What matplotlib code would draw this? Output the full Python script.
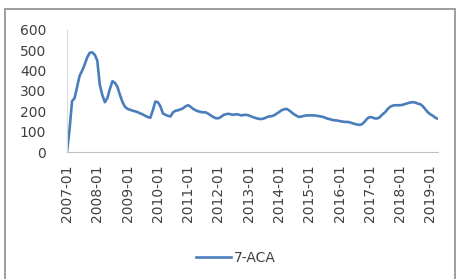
import matplotlib
matplotlib.use("Agg")
import matplotlib.pyplot as plt
from matplotlib.patches import Rectangle

# monthly 7-ACA price, 2007-01 .. 2019-04
values = [
    0, 110, 250, 265, 320, 375, 400, 430, 465, 488, 490, 478,          # 2007
    450, 330, 280, 245, 265, 310, 348, 340, 320, 280, 245, 222,        # 2008
    212, 208, 203, 200, 196, 190, 185, 178, 172, 168, 205, 248,        # 2009
    245, 225, 190, 183, 178, 175, 195, 203, 205, 210, 215, 225,        # 2010
    230, 222, 212, 205, 200, 197, 195, 195, 188, 180, 172, 166,        # 2011
    166, 172, 182, 186, 188, 185, 183, 186, 184, 180, 182, 183,        # 2012
    180, 175, 170, 166, 163, 162, 165, 170, 175, 176, 180, 188,        # 2013
    196, 205, 210, 212, 205, 195, 185, 178, 172, 175, 178, 180,        # 2014
    180, 180, 180, 178, 176, 174, 170, 165, 162, 158, 156, 155,        # 2015
    152, 150, 148, 148, 146, 142, 138, 135, 133, 138, 150, 165,        # 2016
    172, 170, 165, 165, 172, 185, 195, 210, 222, 228, 230, 230,        # 2017
    230, 232, 236, 240, 243, 245, 243, 238, 235, 225, 210, 195,        # 2018
    185, 178, 168, 163,                                                # 2019
]
years = list(range(2007, 2020))
tick_labels = [f"{y}-01" for y in years]
series_name = "7-ACA"

fig = plt.figure(figsize=(4.57, 2.79), dpi=100)
fig.patches.append(Rectangle((5 / 457, -0.1), 450 / 457, 1.1 - 9 / 279,
                             transform=fig.transFigure, fill=False,
                             edgecolor="#8c8c8c", lw=1.2))

ax = fig.add_axes([67 / 457, 127 / 279, 371 / 457, 122 / 279])
line, = ax.plot(range(len(values)), values, color="#4a7ebb", lw=1.9,
                solid_joinstyle="round")

ax.set_ylim(0, 600)
ax.set_yticks(range(0, 601, 100))
ax.set_xlim(0, len(values) - 1)
ax.set_xticks([12 * i for i in range(len(years))])
ax.set_xticklabels(tick_labels, rotation=90)
ax.tick_params(length=0, labelsize=10, colors="#404040")
ax.tick_params(axis="y", pad=15)
ax.tick_params(axis="x", pad=9)
for s in ["top", "right"]:
    ax.spines[s].set_visible(False)
ax.spines["bottom"].set_color("#bfbfbf")
ax.spines["left"].set_color("#d9d9d9")

fig.legend([line], [series_name], loc="center",
           bbox_to_anchor=(236 / 457, 21 / 279), frameon=False,
           fontsize=10, handlelength=2.5, handletextpad=0.2,
           labelcolor="#404040")

fig.savefig("out.png", dpi=100)
